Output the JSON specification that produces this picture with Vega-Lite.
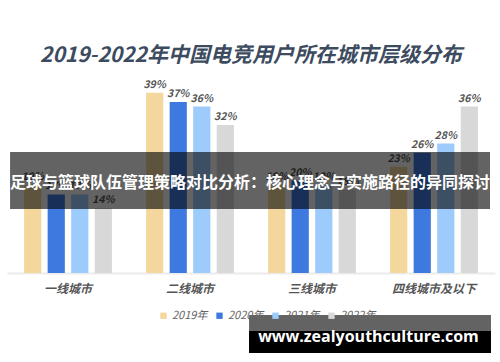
{
  "$schema": "https://vega.github.io/schema/vega-lite/v6.json",
  "width": 488,
  "height": 185,
  "autosize": {"type": "none"},
  "padding": {"left": 7, "top": 88, "right": 5, "bottom": 89},
  "background": "white",
  "config": {"view": {"stroke": null}, "font": "Noto Sans CJK SC"},
  "title": {
    "text": "2019-2022年中国电竞用户所在城市层级分布",
    "fontSize": 21,
    "fontWeight": "bold",
    "fontStyle": "italic",
    "color": "#3d4b5f",
    "anchor": "middle",
    "offset": 14,
    "font": "Noto Sans CJK SC"
  },
  "datasets": {
    "bars": [
      {"city": "一线城市", "year": "2019年", "value": 0.19},
      {"city": "一线城市", "year": "2020年", "value": 0.17},
      {"city": "一线城市", "year": "2021年", "value": 0.17},
      {"city": "一线城市", "year": "2022年", "value": 0.14},
      {"city": "二线城市", "year": "2019年", "value": 0.39},
      {"city": "二线城市", "year": "2020年", "value": 0.37},
      {"city": "二线城市", "year": "2021年", "value": 0.36},
      {"city": "二线城市", "year": "2022年", "value": 0.32},
      {"city": "三线城市", "year": "2019年", "value": 0.19},
      {"city": "三线城市", "year": "2020年", "value": 0.20},
      {"city": "三线城市", "year": "2021年", "value": 0.19},
      {"city": "三线城市", "year": "2022年", "value": 0.18},
      {"city": "四线城市及以下", "year": "2019年", "value": 0.23},
      {"city": "四线城市及以下", "year": "2020年", "value": 0.26},
      {"city": "四线城市及以下", "year": "2021年", "value": 0.28},
      {"city": "四线城市及以下", "year": "2022年", "value": 0.36}
    ],
    "band": [{"x": 0.025, "x2": 3.959, "y": 0.2616, "y2": 0.1384, "cx": 1.992, "cy": 0.1946, "label": "足球与篮球队伍管理策略对比分析：核心理念与实施路径的异同探讨"}],
    "mark": [{"x": 1.984, "x2": 3.967, "y": -0.0908, "y2": -0.173, "yb": -0.1254, "cx": 2.963, "cy": -0.138, "label": "www.zealyouthculture.com"}]
  },
  "layer": [
    {
      "data": {"name": "bars"},
      "encoding": {
        "x": {
          "field": "city", "type": "nominal", "sort": null,
          "scale": {"paddingInner": 0.28, "paddingOuter": 0.14},
          "axis": {
            "title": null, "labelAngle": 0, "ticks": false,
            "domainColor": "#ebebeb", "domainWidth": 2,
            "labelFontSize": 12, "labelFontWeight": "bold", "labelFontStyle": "italic",
            "labelColor": "#555555", "labelPadding": 10, "labelFont": "Noto Sans CJK SC"
          }
        },
        "xOffset": {"field": "year", "type": "nominal", "scale": {"paddingInner": 0.27}},
        "y": {"field": "value", "type": "quantitative", "scale": {"domain": [0, 0.4]}, "axis": null}
      },
      "layer": [
        {
          "mark": {"type": "bar"},
          "encoding": {
            "color": {
              "field": "year", "type": "nominal",
              "scale": {"range": ["#f3d79c", "#3e79df", "#9dcbfb", "#d8d8d8"]},
              "legend": {
                "title": null, "orient": "none", "direction": "horizontal",
                "legendX": 151, "legendY": 222,
                "symbolType": "square", "symbolSize": 40, "labelFontSize": 11,
                "labelFontStyle": "italic", "labelColor": "#666666", "columnPadding": 6,
                "labelOffset": 3, "labelFont": "Noto Sans CJK SC"
              }
            }
          }
        },
        {
          "mark": {"type": "text", "dy": -8, "fontSize": 10.5, "fontStyle": "italic", "fontWeight": "bold", "color": "#555555"},
          "encoding": {"text": {"field": "value", "type": "quantitative", "format": ".0%"}}
        }
      ]
    },
    {
      "data": {"name": "band"},
      "encoding": {
        "x": {"field": "x", "type": "quantitative", "scale": {"domain": [0, 4]}, "axis": null},
        "y": {"field": "y", "type": "quantitative", "scale": {"domain": [0, 0.4]}, "axis": null}
      },
      "layer": [
        {"mark": {"type": "rect", "color": "#000000", "opacity": 0.61}, "encoding": {"x2": {"field": "x2"}, "y2": {"field": "y2"}}},
        {"mark": {"type": "text", "color": "white", "fontSize": 16, "fontWeight": "bold", "font": "Noto Sans CJK SC"},
         "encoding": {"x": {"field": "cx", "type": "quantitative"}, "y": {"field": "cy", "type": "quantitative"}, "text": {"field": "label"}}}
      ]
    },
    {
      "data": {"name": "mark"},
      "encoding": {
        "x": {"field": "x", "type": "quantitative", "scale": {"domain": [0, 4]}, "axis": null},
        "y": {"field": "y", "type": "quantitative", "scale": {"domain": [0, 0.4]}, "axis": null}
      },
      "layer": [
        {"mark": {"type": "rect", "color": "#000000", "opacity": 0.61}, "encoding": {"x2": {"field": "x2"}, "y2": {"field": "y2"}}},
        {"mark": {"type": "rect", "color": "#000000", "opacity": 1}, "encoding": {"y": {"field": "yb", "type": "quantitative"}, "x2": {"field": "x2"}, "y2": {"field": "y2"}}},
        {"mark": {"type": "text", "color": "white", "fontSize": 16, "fontWeight": "bold", "font": "Open Sans"},
         "encoding": {"x": {"field": "cx", "type": "quantitative"}, "y": {"field": "cy", "type": "quantitative"}, "text": {"field": "label"}}}
      ]
    }
  ],
  "resolve": {"scale": {"x": "independent"}}
}
